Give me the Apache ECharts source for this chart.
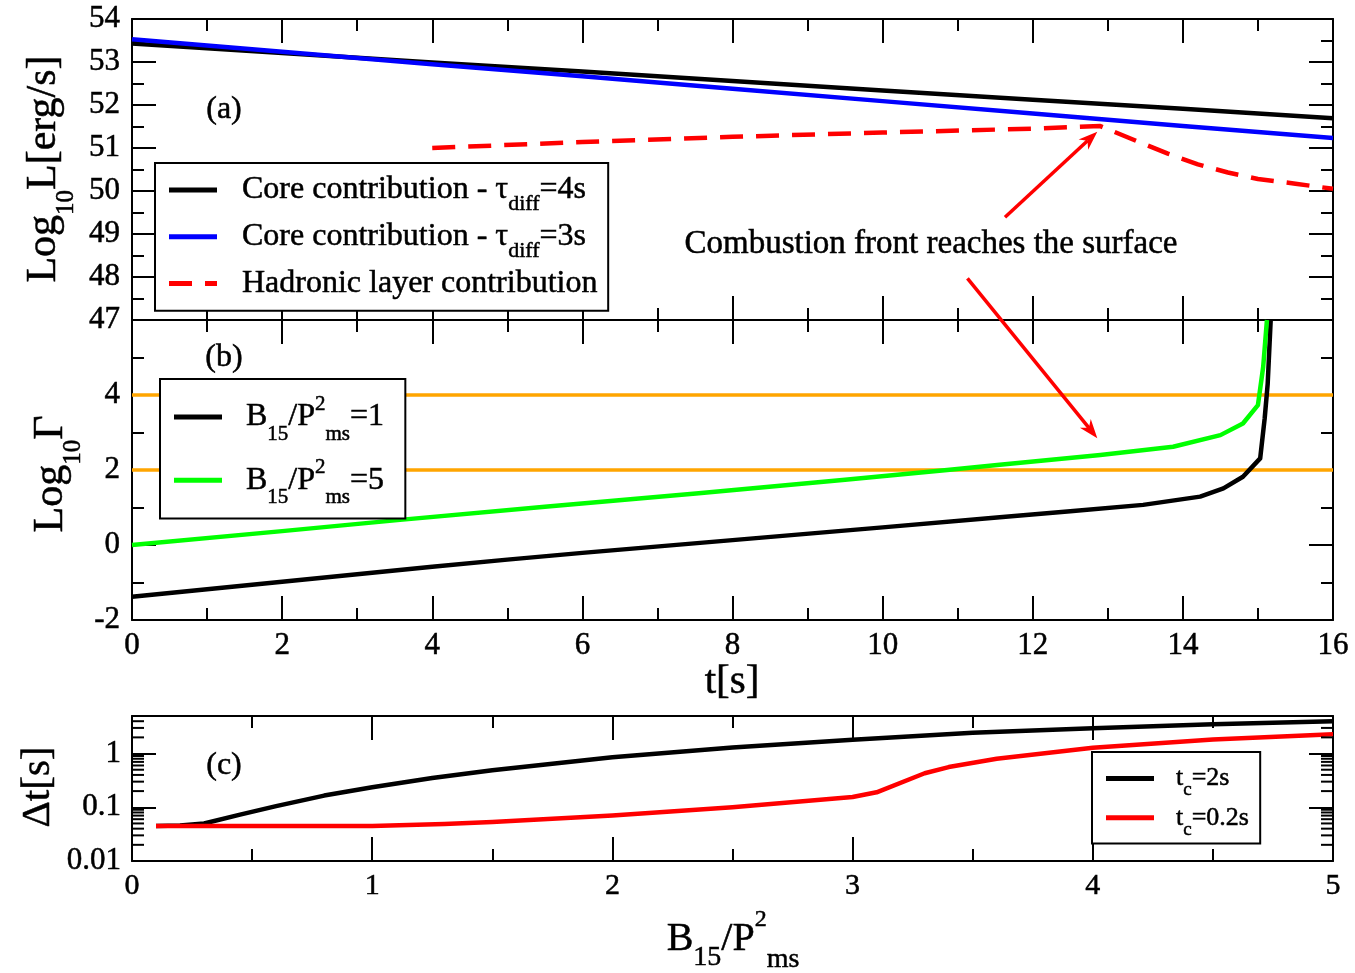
<!DOCTYPE html>
<html><head><meta charset="utf-8">
<script src="https://cdn.jsdelivr.net/npm/echarts@6/dist/echarts.min.js"></script>
<style>html,body{margin:0;padding:0;background:#fff}#c{width:1355px;height:973px}</style>
</head><body><div id="c"></div>
<script>
const FONT = '"Liberation Serif", "Times New Roman", serif';
const TB = 0.5; // slight text stroke to mimic the heavier rendering

// ---------- Panel (a): luminosity ----------
const tCore = [0, 2, 4, 6, 8, 10, 12, 14, 16];
const coreTau4 = [53.43, 53.21, 52.99, 52.78, 52.56, 52.34, 52.12, 51.91, 51.69];
const coreTau3 = [53.53, 53.24, 52.95, 52.67, 52.38, 52.09, 51.80, 51.51, 51.23];
const tHadron = [4, 6, 8, 10, 12, 12.9, 13.4, 13.8, 14.2, 14.6, 15.0, 15.5, 16];
const hadron = [51.0, 51.14, 51.26, 51.36, 51.45, 51.51, 51.15, 50.87, 50.62, 50.43, 50.28, 50.17, 50.05];

// ---------- Panel (b): Lorentz factor ----------
const tB1 = [0, 2, 4, 5, 6, 8, 10, 11.56, 12.5, 13.47, 14.23, 14.54, 14.8, 15.03, 15.09, 15.13, 15.17];
const gammaB1 = [-1.38, -0.98, -0.58, -0.39, -0.21, 0.13, 0.47, 0.74, 0.9, 1.07, 1.29, 1.51, 1.82, 2.31, 3.38, 4.3, 6.0];
const tB5 = [0, 2, 3.57, 5.5, 7.55, 9.5, 10.86, 11.56, 12.9, 13.87, 14.5, 14.8, 15.0, 15.07, 15.12];
const gammaB5 = [0.0, 0.37, 0.67, 1.02, 1.38, 1.74, 2.0, 2.14, 2.4, 2.62, 2.93, 3.24, 3.73, 4.75, 6.0];
const gammaLevels = [2, 4];
const tRange = [0, 16];

// ---------- Panel (c): delta t ----------
const bBlack = [0.1, 0.2, 0.3, 0.45, 0.6, 0.8, 1.0, 1.25, 1.5, 2.0, 2.5, 3.0, 3.5, 4.0, 4.5, 5.0];
const dtBlack = [0.045, 0.046, 0.05, 0.073, 0.105, 0.165, 0.236, 0.35, 0.49, 0.85, 1.3, 1.8, 2.45, 2.95, 3.5, 4.0];
const bRed = [0.1, 0.5, 1.0, 1.3, 1.5, 2.0, 2.5, 3.0, 3.1, 3.3, 3.4, 3.6, 4.0, 4.5, 5.0];
const dtRed = [0.045, 0.045, 0.045, 0.049, 0.053, 0.07, 0.1, 0.155, 0.19, 0.43, 0.56, 0.8, 1.28, 1.82, 2.28];
const logMinorTicks = [0.02,0.03,0.04,0.05,0.06,0.07,0.08,0.09,0.2,0.3,0.4,0.5,0.6,0.7,0.8,0.9,2,3,4];

const zip = (xs, ys) => xs.map((x, i) => [x, ys[i]]);

const names = {
  c4: 'Core contribution - tau_diff=4s',
  c3: 'Core contribution - tau_diff=3s',
  had: 'Hadronic layer contribution',
  b1: 'B15/P2ms=1',
  b5: 'B15/P2ms=5',
  tc2: 'tc=2s',
  tc02: 'tc=0.2s'
};
const legendText = {};
legendText[names.c4] = '{g| }Core contribution - \u03c4{sub|diff}=4s';
legendText[names.c3] = '{g| }Core contribution - \u03c4{sub|diff}=3s';
legendText[names.had] = '{g| }Hadronic layer contribution{sub| }';
legendText[names.b1] = '{g| }B{sub|15}/P{sup|2}{sub|ms}=1';
legendText[names.b5] = '{g| }B{sub|15}/P{sup|2}{sub|ms}=5';
legendText[names.tc2] = '{g| }t{sub|c}=2s';
legendText[names.tc02] = '{g| }t{sub|c}=0.2s';

const ICON_SOLID = 'path://M0,0H48V5H0Z';
const ICON_DASH = 'path://M0,0H23V5H0Z M36,0H48V5H36Z';

const K = '#000';
function axisBase(extra) {
  return Object.assign({
    axisLine: {show: true, onZero: false, lineStyle: {color: K, width: 2}},
    axisTick: {show: true, inside: true, length: 24, lineStyle: {color: K, width: 2}},
    minorTick: {show: true, splitNumber: 2, length: 12, lineStyle: {color: K, width: 2}},
    splitLine: {show: false},
    minorSplitLine: {show: false},
    axisLabel: {show: false},
    axisPointer: {show: false}
  }, extra);
}
function lbl(size, margin, extra) {
  return Object.assign({show: true, color: K, fontFamily: FONT, fontSize: size, margin: margin, hideOverlap: false,
    textBorderColor: K, textBorderWidth: TB}, extra || {});
}

const xAxes = [
  axisBase({gridIndex: 0, type: 'value', position: 'bottom', min: 0, max: 16, interval: 2}),
  axisBase({gridIndex: 0, type: 'value', position: 'top', min: 0, max: 16, interval: 2}),
  axisBase({gridIndex: 1, type: 'value', position: 'bottom', min: 0, max: 16, interval: 2, axisLabel: lbl(31, 10)}),
  axisBase({gridIndex: 1, type: 'value', position: 'top', min: 0, max: 16, interval: 2}),
  axisBase({gridIndex: 2, type: 'value', position: 'bottom', min: 0, max: 5, interval: 1, axisLabel: lbl(30, 10)}),
  axisBase({gridIndex: 2, type: 'value', position: 'top', min: 0, max: 5, interval: 1})
];
const logAxisExtra = {
  type: 'log', logBase: 10, min: 0.01, max: 5,
  minorTick: {show: false}
};
const yAxes = [
  axisBase({gridIndex: 0, type: 'value', position: 'left', min: 47, max: 54, interval: 1, axisLabel: lbl(31, 12)}),
  axisBase({gridIndex: 0, type: 'value', position: 'right', min: 47, max: 54, interval: 1}),
  axisBase({gridIndex: 1, type: 'value', position: 'left', min: -2, max: 6, interval: 2, axisLabel: lbl(31, 12, {showMaxLabel: false})}),
  axisBase({gridIndex: 1, type: 'value', position: 'right', min: -2, max: 6, interval: 2}),
  axisBase(Object.assign({gridIndex: 2, position: 'left', axisLabel: lbl(31, 11, {showMaxLabel: false, formatter: v => String(Number(v.toPrecision(3)))})}, logAxisExtra)),
  axisBase(Object.assign({gridIndex: 2, position: 'right'}, logAxisExtra))
];

function line(name, xi, yi, data, color, width, dash, z) {
  return {
    name: name, type: 'line', xAxisIndex: xi, yAxisIndex: yi, data: data,
    symbol: 'none', showSymbol: false, smooth: false, clip: true, z: z || 3,
    lineStyle: {color: color, width: width, type: dash || 'solid', cap: 'butt', join: 'round'},
    itemStyle: {color: color},
    emphasis: {disabled: true}
  };
}

const series = [
  line(names.c4, 0, 0, zip(tCore, coreTau4), '#000000', 4.5),
  line(names.c3, 0, 0, zip(tCore, coreTau3), '#0000ff', 4.5),
  line(names.had, 0, 0, zip(tHadron, hadron), '#ff0000', 4.5, [23, 13]),
].concat(gammaLevels.map(lv => line('level' + lv, 2, 2, [[tRange[0], lv], [tRange[1], lv]], '#ffa500', 3.5, null, 2)))
.concat([
  line(names.b1, 2, 2, zip(tB1, gammaB1), '#000000', 4.5),
  line(names.b5, 2, 2, zip(tB5, gammaB5), '#00ff00', 4.5),
  line(names.tc2, 4, 4, zip(bBlack, dtBlack), '#000000', 4.5),
  line(names.tc02, 4, 4, zip(bRed, dtRed), '#ff0000', 4.5),
  {
    type: 'custom', xAxisIndex: 4, yAxisIndex: 4, silent: true, z: 6,
    data: logMinorTicks.map(v => [0, v]),
    renderItem: (params, api) => {
      const v = api.value(1);
      const p0 = api.coord([0, v]);
      const p1 = api.coord([5, v]);
      return {type: 'group', children: [
        {type: 'line', shape: {x1: p0[0], y1: p0[1], x2: p0[0] + 12, y2: p0[1]}, style: {stroke: K, lineWidth: 2}},
        {type: 'line', shape: {x1: p1[0] - 12, y1: p1[1], x2: p1[0], y2: p1[1]}, style: {stroke: K, lineWidth: 2}}
      ]};
    }
  }
]);

function legendCfg(items, left, top, padding, fontSize, lineHeight, gap, itemGap, rich) {
  return {
    data: items.map(it => ({name: it[0], icon: it[1]})),
    left: left, top: top, orient: 'vertical',
    backgroundColor: '#fff', borderColor: K, borderWidth: 2, borderRadius: 0,
    padding: padding, itemWidth: 48, itemHeight: 5, itemGap: itemGap,
    selectedMode: false, z: 10, symbolKeepAspect: false,
    formatter: n => legendText[n],
    textStyle: {
      fontFamily: FONT, fontSize: fontSize, color: K, lineHeight: lineHeight,
      textBorderColor: K, textBorderWidth: TB,
      rich: Object.assign({g: {width: gap, fontSize: fontSize, lineHeight: lineHeight}}, rich)
    }
  };
}
const subR = (s, pad) => ({fontFamily: FONT, fontSize: s, lineHeight: s, color: K, textBorderColor: K, textBorderWidth: TB, padding: [pad, 0, 0, 0]});
const supR = (s, pad) => ({fontFamily: FONT, fontSize: s, lineHeight: s, color: K, textBorderColor: K, textBorderWidth: TB, padding: [0, 0, pad, 0]});

const legends = [
  legendCfg([[names.c4, ICON_SOLID], [names.c3, ICON_SOLID], [names.had, ICON_DASH]], 155, 163, [2, 5, 2, 14], 32, 34, 20, -3.5, {
    sub: subR(22, 28)
  }),
  legendCfg([[names.b1, ICON_SOLID], [names.b5, ICON_SOLID]], 160, 379, [10, 21, 10, 14], 32, 36, 19, 7, {
    sub: subR(21, 35),
    sup: supR(21, 25)
  }),
  legendCfg([[names.tc2, ICON_SOLID], [names.tc02, ICON_SOLID]], 1092, 752, [5, 11, 4, 14], 26, 28, 17, -4, {
    sub: subR(19, 24)
  })
];

const chart = echarts.init(document.getElementById('c'), null, {renderer: 'canvas'});
chart.setOption({
  backgroundColor: '#fff',
  animation: false,
  grid: [
    {left: 132, top: 19, width: 1201, height: 301, outerBoundsMode: 'none', containLabel: false},
    {left: 132, top: 320, width: 1201, height: 300, outerBoundsMode: 'none', containLabel: false},
    {left: 132, top: 716, width: 1201, height: 145, outerBoundsMode: 'none', containLabel: false}
  ],
  xAxis: xAxes,
  yAxis: yAxes,
  legend: legends,
  series: series
});

// ---------- annotations ----------
function px(xi, yi, pt) { return chart.convertToPixel({xAxisIndex: xi, yAxisIndex: yi}, pt); }
function arrow(p0, p1) {
  const dx = p1[0] - p0[0], dy = p1[1] - p0[1], L = Math.hypot(dx, dy);
  const ux = dx / L, uy = dy / L, hl = 19, hw = 7;
  const bx = p1[0] - ux * hl, by = p1[1] - uy * hl;
  const nx = p1[0] - ux * hl * 0.7, ny = p1[1] - uy * hl * 0.7;
  return [
    {type: 'line', z: 100, shape: {x1: p0[0], y1: p0[1], x2: nx, y2: ny}, style: {stroke: '#ff0000', lineWidth: 3.5}},
    {type: 'polygon', z: 100, shape: {points: [[p1[0], p1[1]], [bx - uy * hw, by + ux * hw], [nx, ny], [bx + uy * hw, by - ux * hw]]}, style: {fill: '#ff0000'}}
  ];
}
function txt(text, x, y, size, rich, rotation) {
  return {type: 'text', x: x, y: y, rotation: rotation || 0, z: 50,
    style: {text: text, fill: K, stroke: K, lineWidth: TB, fontFamily: FONT, fontSize: size, align: 'center', verticalAlign: 'middle', rich: rich || {}}};
}
const sub = (s, d) => ({fontFamily: FONT, fontSize: s, lineHeight: s, fill: K, stroke: K, lineWidth: TB, padding: [2 * d, 0, 0, 0]});
const sup = (s, u) => ({fontFamily: FONT, fontSize: s, lineHeight: s, fill: K, stroke: K, lineWidth: TB, padding: [0, 0, 2 * u, 0]});

const graphics = []
  .concat(arrow(px(0, 0, [11.63, 49.39]), px(0, 0, [12.86, 51.38])))
  .concat(arrow(px(0, 0, [11.13, 47.97]), px(2, 2, [12.86, 2.85])))
  .concat([
    txt('Combustion front reaches the surface', 931, 244, 33),
    txt('(a)', 224, 110, 32),
    txt('(b)', 224, 358, 32),
    txt('(c)', 224, 766, 32),
    txt('Log{sub|10}L[erg/s]', 44, 169, 42, {sub: sub(25, 22)}, Math.PI / 2),
    txt('Log{sub|10}\u0393', 51, 474, 42, {sub: sub(25, 22)}, Math.PI / 2),
    txt('\u0394t[s]', 38, 787, 41, {}, Math.PI / 2),
    txt('t[s]', 732, 682, 41),
    txt('B{s|15}/P{p|2}{s2|ms}', 733, 939, 40, {s: sub(28, 19), p: sup(24, 19), s2: sub(28, 21)})
  ]);
chart.setOption({graphic: graphics});
</script></body></html>
